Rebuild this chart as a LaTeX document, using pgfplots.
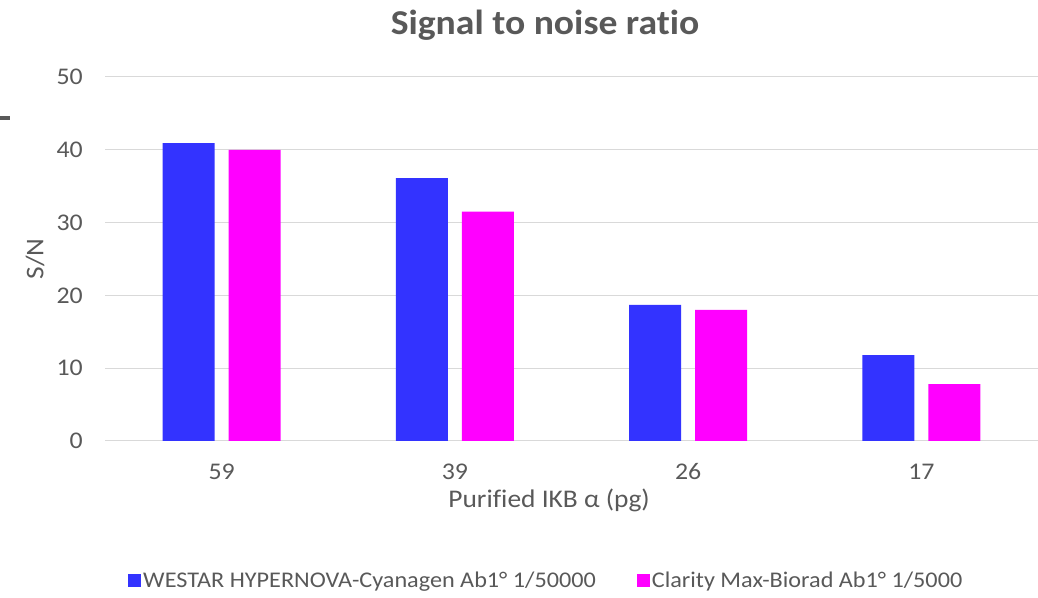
\documentclass[border=0pt]{standalone}
\usepackage{pgfplots}
\pgfplotsset{compat=1.18}
\usepackage{fontspec}
\setmainfont{Carlito}[FakeStretch=1.08, Ligatures=NoCommon]
\definecolor{txt}{HTML}{595959}
\definecolor{gridc}{HTML}{D9D9D9}
\definecolor{sblue}{HTML}{3333FF}
\definecolor{smag}{HTML}{FF00FF}
\begin{document}
\begin{tikzpicture}[x=1bp,y=1bp]
\path[use as bounding box] (0,0) rectangle (1038,598);
\fill[txt] (0,478) rectangle (10,482);
\node[font=\fontsize{35}{40}\selectfont\bfseries, text=txt] at (545,573) {Signal to noise ratio};
\begin{axis}[
  at={(105bp,157bp)}, anchor=south west,
  scale only axis, width=933bp, height=364bp,
  xmin=-0.5, xmax=3.5, ymin=0, ymax=50,
  xtick={0,1,2,3}, xticklabels={59,39,26,17},
  ytick={0,10,20,30,40,50},
  /pgf/number format/assume math mode=true,
  major tick length=0pt,
  axis x line*=bottom, axis y line*=left,
  x axis line style={draw=gridc, line width=1bp, -},
  y axis line style={draw=none, -},
  ymajorgrids, grid style={draw=gridc, line width=1bp},
  ticklabel style={font=\fontsize{24}{28}\selectfont, text=txt},
  yticklabel style={anchor=east, inner sep=0pt, xshift=-22bp},
  xticklabel style={anchor=center, inner sep=0pt, yshift=-31bp},
  xlabel={Purified IKB α (pg)},
  ylabel={S/N},
  label style={font=\fontsize{25.5}{30}\selectfont, text=txt},
  xlabel style={at={(axis description cs:0.476,-0.162)}, anchor=center},
  ylabel style={at={(axis description cs:-0.075,0.5)}, anchor=center, rotate=0},
  legend columns=2,
  legend style={at={(axis description cs:0.0247,-0.382)}, anchor=west, draw=none,
    inner sep=0pt, font=\fontsize{22.5}{27}\selectfont, text=txt,
    /tikz/every even column/.append style={column sep=39bp}},
  legend cell align=left,
]
\addplot[ybar, bar width=52bp, bar shift=-33bp, fill=sblue, draw=none,
  legend image code/.code={\fill[sblue] (0bp,-6.5bp) rectangle (13bp,6.5bp);}]
  coordinates {(0,40.9) (1,36.1) (2,18.7) (3,11.8)};
\addlegendentry{WESTAR HYPERNOVA-Cyanagen Ab1° 1/50000}
\addplot[ybar, bar width=52bp, bar shift=33bp, fill=smag, draw=none,
  legend image code/.code={\fill[smag] (0bp,-6.5bp) rectangle (13bp,6.5bp);}]
  coordinates {(0,40.0) (1,31.5) (2,18.0) (3,7.8)};
\addlegendentry{Clarity Max-Biorad Ab1° 1/5000}
\end{axis}
\end{tikzpicture}
\end{document}
